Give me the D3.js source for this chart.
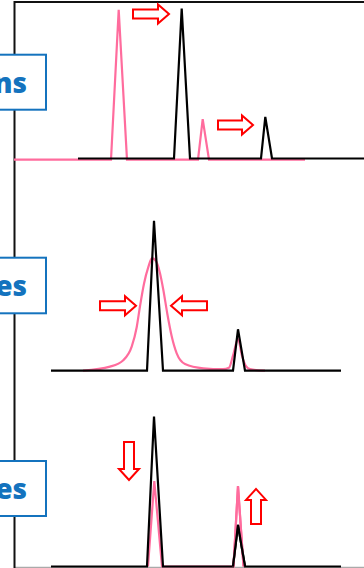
<!DOCTYPE html>
<html>
<head>
<meta charset="utf-8">
<script src="https://cdn.jsdelivr.net/npm/d3@7"></script>
<style>
  html, body { margin: 0; padding: 0; background: #fff; }
  svg { display: block; }
</style>
</head>
<body>
<div id="vis"></div>
<script>
// panel labels (only the right end shows inside the window, as in the original)
const panelLabels = ['Peak positions', 'Peak shapes', 'Peak intensities']

// [time, signal] points, signal 0-100
const pos_ref = [[0, 0], [9.7, 0], [10.47, 100], [11.3, 0], [18.4, 0], [18.87, 27], [19.5, 0], [29.1, 0]]
const pos_new = [[6.4, 0], [16.0, 0], [16.77, 100], [17.6, 0], [24.7, 0], [25.13, 27.7], [25.8, 0], [35, 0]]

const shape_ref = [[6.9, 0], [9.6, 2.7], [10.93, 7], [11.77, 16], [12.27, 29], [12.6, 43], [13.0, 58],
  [13.43, 69], [13.8, 75], [14.2, 73], [14.6, 65], [14.93, 54], [15.33, 38], [15.77, 23], [16.27, 11.6],
  [17.1, 4.5], [18.93, 1.6], [20.9, 1], [21.5, 2], [21.9, 10], [22.4, 21], [22.8, 10], [23.2, 3], [23.6, 1], [25.1, 0]]
const shape_new = [[3.7, 0], [13.3, 0], [14.0, 100], [14.9, 0], [21.9, 0], [22.4, 27.6], [23.1, 0], [32.7, 0]]

const size_ref = [[13.4, 0], [14.03, 57], [14.8, 0], [21.95, 0], [22.4, 53.7], [22.95, 0]]
const size_new = [[3.7, 0], [13.3, 0], [14.0, 100], [14.9, 0], [21.9, 0], [22.4, 27.7], [23.1, 0], [32.7, 0]]

// red block arrows: [panel, t0, t1, value] horizontal, [panel, t, v0, v1] vertical
const hArrows = [[0, 11.9, 15.5, 96.3], [0, 20.4, 23.9, 22.3], [1, 8.6, 12.2, 43.3], [1, 19.3, 15.7, 43.3]]
const vArrows = [[2, 11.5, 83, 57.7], [2, 24.2, 28.3, 51.7]]

const W = 364, H = 568
const baselines = [158.5, 370.7, 566.5]
const boxes = [[54.7, 109.7], [257.7, 313.3], [461, 516]]
const pink = '#ff6c9d', blue = '#1473be'

const svg = d3.select('#vis').append('svg')
    .attr('width', W)
    .attr('height', H)

const x = d3.scaleLinear([0, 35], [14, 364])
const yScales = baselines.map(b => d3.scaleLinear([0, 100], [b, b - 150]))

// frame
svg.append('line').attr('x1', 14).attr('x2', W).attr('y1', H - 0.5).attr('y2', H - 0.5)
    .attr('stroke', '#aaa').attr('stroke-width', 1.5)
svg.append('line').attr('x1', 14.5).attr('x2', 14.5).attr('y1', 1).attr('y2', H)
    .attr('stroke', '#111').attr('stroke-width', 2)
svg.append('line').attr('x1', 14).attr('x2', W).attr('y1', 2).attr('y2', 2)
    .attr('stroke', '#111').attr('stroke-width', 2)

function drawLine(data, i, color, curve, dy) {
    let line = d3.line()
        .x(d => x(d[0]))
        .y(d => yScales[i](d[1]) + (dy || 0))
        .curve(curve)
    svg.append('path')
        .datum(data)
        .attr('d', line)
        .attr('fill', 'none')
        .attr('stroke', color)
        .attr('stroke-width', 2.2)
        .attr('stroke-linejoin', 'miter')
}

drawLine(pos_ref, 0, pink, d3.curveLinear, 1.2)
drawLine(pos_new, 0, '#000', d3.curveLinear)
drawLine(shape_ref, 1, pink, d3.curveMonotoneX, 0)
drawLine(shape_new, 1, '#000', d3.curveLinear)
drawLine(size_ref, 2, pink, d3.curveLinear, 0)
drawLine(size_new, 2, '#000', d3.curveLinear)
// pink tip of the small peak sits above the black one, black drawn again on top
drawLine(size_ref.slice(3), 2, pink, d3.curveLinear, 0)
drawLine(size_new.slice(4, 7), 2, '#000', d3.curveLinear)

// arrows
function hArrow(x0, x1, yc) {
    let dir = x1 > x0 ? 1 : -1
    let head = 11 * dir, hh = 9.5, sh = 4.5
    return `M${x0},${yc - sh}L${x1 - head},${yc - sh}L${x1 - head},${yc - hh}L${x1},${yc}` +
        `L${x1 - head},${yc + hh}L${x1 - head},${yc + sh}L${x0},${yc + sh}Z`
}
function vArrow(xc, y0, y1) {
    let dir = y1 > y0 ? 1 : -1
    let head = 11 * dir, hw = 10, sw = 5
    return `M${xc - sw},${y0}L${xc - sw},${y1 - head}L${xc - hw},${y1 - head}L${xc},${y1}` +
        `L${xc + hw},${y1 - head}L${xc + sw},${y1 - head}L${xc + sw},${y0}Z`
}

svg.selectAll('.harrow')
    .data(hArrows)
    .enter()
    .append('path')
        .attr('class', 'harrow')
        .attr('d', d => hArrow(x(d[1]), x(d[2]), yScales[d[0]](d[3])))
        .attr('fill', '#fff')
        .attr('stroke', '#f00')
        .attr('stroke-width', 2)

svg.selectAll('.varrow')
    .data(vArrows)
    .enter()
    .append('path')
        .attr('class', 'varrow')
        .attr('d', d => vArrow(x(d[1]), yScales[d[0]](d[2]), yScales[d[0]](d[3])))
        .attr('fill', '#fff')
        .attr('stroke', '#f00')
        .attr('stroke-width', 2)

// label boxes
let labels = svg.selectAll('.label')
    .data(panelLabels)
    .enter()
    .append('g')
        .attr('class', 'label')

labels.append('rect')
    .attr('x', -260)
    .attr('y', (d, i) => boxes[i][0])
    .attr('width', 306)
    .attr('height', (d, i) => boxes[i][1] - boxes[i][0])
    .attr('fill', '#fff')
    .attr('stroke', blue)
    .attr('stroke-width', 2)

labels.append('text')
    .text(d => d)
    .attr('x', 27)
    .attr('y', (d, i) => (boxes[i][0] + boxes[i][1]) / 2 + 10.5)
    .attr('text-anchor', 'end')
    .attr('font-family', 'Open Sans, sans-serif')
    .attr('font-weight', 800)
    .attr('font-size', 28)
    .attr('fill', blue)
</script>
</body>
</html>
